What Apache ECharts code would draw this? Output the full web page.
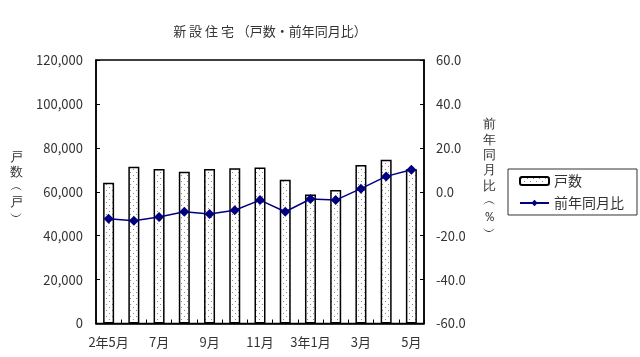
<!DOCTYPE html>
<html>
<head>
<meta charset="utf-8">
<script src="https://cdn.jsdelivr.net/npm/echarts@6/dist/echarts.min.js"></script>
<style>
html,body{margin:0;padding:0;background:#fff;}
#c{width:640px;height:357px;}
</style>
</head>
<body>
<div id="c"></div>
<script>
const categories = ['2年5月','6月','7月','8月','9月','10月','11月','12月','3年1月','2月','3月','4月','5月'];
const units = [64100, 71400, 70400, 69100, 70400, 70700, 71100, 65500, 58800, 60800, 72200, 74600, 70200];
const yoy = [-12.3, -13.2, -11.5, -9.1, -10.1, -8.4, -3.8, -9.1, -3.3, -3.8, 1.4, 7.0, 10.0];
const leftTicks = [0, 20000, 40000, 60000, 80000, 100000, 120000];
const rightTicks = [-60, -40, -20, 0, 20, 40, 60];

const FONT = '"Noto Sans CJK JP", "Noto Sans", sans-serif';

// dotted fill pattern for bars
const pc = document.createElement('canvas');
pc.width = 6; pc.height = 6;
const pctx = pc.getContext('2d');
pctx.fillStyle = '#ffffff';
pctx.fillRect(0, 0, 6, 6);
pctx.fillStyle = '#8a8a8a';
pctx.fillRect(1, 1, 1, 1);
pctx.fillRect(4, 4, 1, 1);

const chart = echarts.init(document.getElementById('c'), null, {renderer: 'canvas'});
const option = {
  animation: false,
  backgroundColor: '#fff',
  textStyle: {fontFamily: FONT},
  title: {
    text: '新 設 住 宅 （戸数・前年同月比）',
    left: 265, top: 20, textAlign: 'center',
    textStyle: {fontSize: 13, fontWeight: 'normal', color: '#333', fontFamily: FONT}
  },
  grid: {
    left: 96, right: 216, top: 60, bottom: 33.5,
    show: true, borderColor: '#000', borderWidth: 1.5, backgroundColor: 'transparent'
  },
  legend: {
    orient: 'vertical', left: 508, top: 169,
    padding: [5, 13, 5, 11], itemGap: 8,
    itemWidth: 29, itemHeight: 8,
    borderColor: '#333', borderWidth: 1,
    textStyle: {fontSize: 14, color: '#333', fontFamily: FONT},
    data: ['戸数', '前年同月比']
  },
  xAxis: {
    type: 'category', data: categories, boundaryGap: true,
    axisLine: {show: true, lineStyle: {color: '#000', width: 1.5}},
    axisTick: {show: true, inside: true, length: 4, interval: 0, lineStyle: {color: '#000'}},
    axisLabel: {interval: 1, fontSize: 13, color: '#333', margin: 12, fontFamily: FONT},
    splitLine: {show: false}
  },
  yAxis: [
    {
      type: 'value', min: leftTicks[0], max: leftTicks[leftTicks.length - 1], interval: leftTicks[1] - leftTicks[0],
      position: 'left',
      axisLine: {show: true, lineStyle: {color: '#000', width: 1.5}},
      axisTick: {show: true, inside: true, length: 4, lineStyle: {color: '#000'}},
      axisLabel: {fontSize: 13, color: '#333', margin: 13, fontFamily: FONT,
        formatter: v => v.toLocaleString('en-US')},
      splitLine: {show: false}
    },
    {
      type: 'value', min: rightTicks[0], max: rightTicks[rightTicks.length - 1], interval: rightTicks[1] - rightTicks[0],
      position: 'right',
      axisLine: {show: true, lineStyle: {color: '#000', width: 1.5}},
      axisTick: {show: true, inside: true, length: 4, lineStyle: {color: '#000'}},
      axisLabel: {fontSize: 13, color: '#333', margin: 12, fontFamily: FONT,
        formatter: v => v.toFixed(1)},
      splitLine: {show: false}
    }
  ],
  graphic: [
    {type: 'text', left: 10, top: 150, style: {
      text: '戸\n数\n︵\n戸\n︶', fontSize: 13, lineHeight: 15, fill: '#333',
      font: '13px ' + FONT, align: 'center'}},
    {type: 'text', left: 483, top: 117, style: {
      text: '前\n年\n同\n月\n比\n︵\n％\n︶', fontSize: 13, lineHeight: 15.4, fill: '#333',
      font: '13px ' + FONT, align: 'center'}}
  ],
  series: [
    {
      name: '戸数', type: 'bar', yAxisIndex: 0, data: units, barWidth: 11,
      itemStyle: {color: {image: pc, repeat: 'repeat'}, borderColor: '#000', borderWidth: 1.5}
    },
    {
      name: '前年同月比', type: 'line', yAxisIndex: 1, data: yoy,
      symbol: 'diamond', symbolSize: 10,
      lineStyle: {color: '#000080', width: 1.5},
      itemStyle: {color: '#000080'}
    }
  ]
};
chart.setOption(option);
</script>
</body>
</html>
